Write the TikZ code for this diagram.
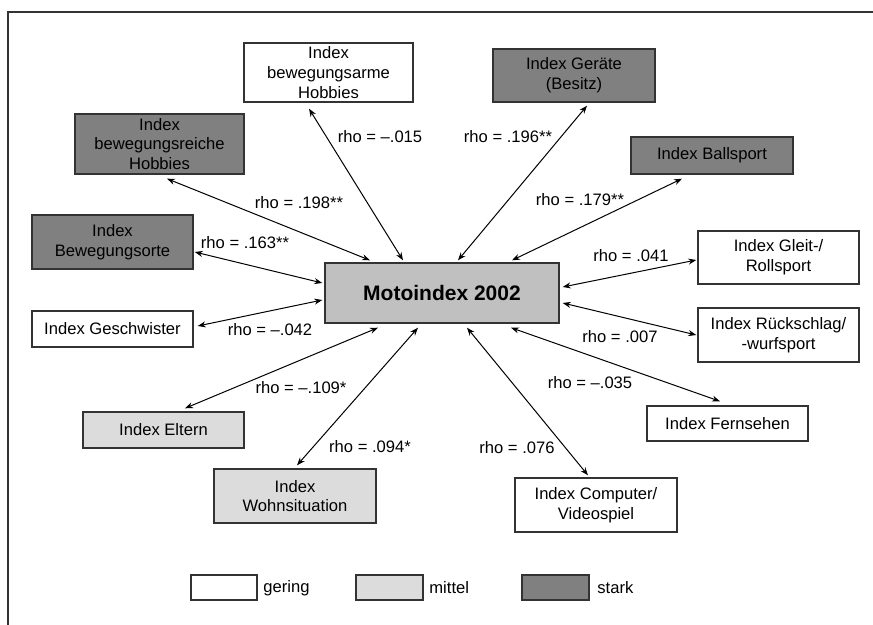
\documentclass[tikz,border=0pt]{standalone}
\usepackage{fontspec}
\setmainfont{Liberation Sans}
\usetikzlibrary{arrows.meta}
\definecolor{StarkClr}{RGB}{128,128,128}
\definecolor{MittelClr}{RGB}{220,220,220}
\definecolor{MotoClr}{RGB}{192,192,192}
\definecolor{FrameClr}{RGB}{51,51,51}

\begin{document}
\begin{tikzpicture}[x=0.5pt,y=-0.5pt,
  box/.style={draw=FrameClr,line width=0.7pt,rectangle,inner sep=0pt,align=center,font=\fontsize{8.3}{9.8}\selectfont},
  gering/.style={box,fill=white},
  mittel/.style={box,fill=MittelClr},
  stark/.style={box,fill=StarkClr},
  rho/.style={inner sep=0pt,font=\fontsize{8.3}{9.8}\selectfont},
  link/.style={line width=0.5pt,{Stealth[length=4pt,width=3pt]}-{Stealth[length=4pt,width=3pt]}}]
\useasboundingbox (0,0) rectangle (873,625);

\draw[FrameClr,line width=1pt] (8,625) -- (8,12) -- (873,12);

\node[box,fill=MotoClr,minimum width=117pt,minimum height=30pt,font=\fontsize{10.5}{12}\selectfont\bfseries] (moto) at (442,293) {Motoindex 2002};

\node[stark,minimum width=84.5pt,minimum height=30pt] (reiche) at (159.5,144) {Index\\bewegungsreiche\\Hobbies};
\node[gering,minimum width=84.5pt,minimum height=29.5pt] (arme) at (328.5,72.5) {Index\\bewegungsarme\\Hobbies};
\node[stark,minimum width=81pt,minimum height=26.5pt] (geraete) at (574,75.5) {Index Geräte\\(Besitz)};
\node[stark,minimum width=81pt,minimum height=18.5pt] (ball) at (712,155.5) {Index Ballsport};
\node[stark,minimum width=80.5pt,minimum height=27pt] (orte) at (112.5,242) {Index\\Bewegungsorte};
\node[gering,minimum width=80.5pt,minimum height=18pt] (geschw) at (112.5,329) {Index Geschwister};
\node[gering,minimum width=80.5pt,minimum height=26.5pt] (gleit) at (778.5,257.5) {Index Gleit-/\\Rollsport};
\node[gering,minimum width=80.5pt,minimum height=27pt] (rueck) at (778.5,335) {Index Rückschlag/\\-wurfsport};
\node[mittel,minimum width=80.5pt,minimum height=18pt] (eltern) at (163.5,430) {Index Eltern};
\node[mittel,minimum width=81pt,minimum height=27pt] (wohn) at (295,496) {Index\\Wohnsituation};
\node[gering,minimum width=80.5pt,minimum height=17.5pt] (fern) at (727.5,423.5) {Index Fernsehen};
\node[gering,minimum width=81pt,minimum height=27pt] (comp) at (596,505) {Index Computer/\\Videospiel};

\draw[link] ([shift={(7.5,4)}]reiche.south) -- ([shift={(-72,-2)}]moto.north);
\draw[link] ([shift={(-19.5,6)}]arme.south) -- ([shift={(-39,-2)}]moto.north);
\draw[link] ([shift={(13,3)}]geraete.south) -- ([shift={(16,-2)}]moto.north);
\draw[link] ([shift={(-30,4)}]ball.south) -- ([shift={(70,-2)}]moto.north);
\draw[link] ([shift={(1,10)}]orte.east) -- ([shift={(-2,-10)}]moto.west);
\draw[link] ([shift={(4,-3)}]geschw.east) -- ([shift={(-2,7)}]moto.west);
\draw[link] ([shift={(-1,2.5)}]gleit.west) -- ([shift={(3,-6)}]moto.east);
\draw[link] ([shift={(-1,0)}]rueck.west) -- ([shift={(3,10)}]moto.east);
\draw[link] ([shift={(21.5,-3)}]eltern.north) -- ([shift={(-64,4)}]moto.south);
\draw[link] ([shift={(2,-3)}]wohn.north) -- ([shift={(-24,4)}]moto.south);
\draw[link] ([shift={(-8,-2)}]comp.north) -- ([shift={(25,4)}]moto.south);
\draw[link] ([shift={(-7.5,-4)}]fern.north) -- ([shift={(69,4)}]moto.south);

\node[rho] (rho-reiche) at (299,203) {rho = .198**};
\node[rho] (rho-arme) at (380,137) {rho = –.015};
\node[rho] (rho-geraete) at (508,137) {rho = .196**};
\node[rho] (rho-ball) at (580,200) {rho = .179**};
\node[rho] (rho-orte) at (245,243) {rho = .163**};
\node[rho] (rho-geschw) at (270,330) {rho = –.042};
\node[rho] (rho-gleit) at (631,256) {rho = .041};
\node[rho] (rho-rueck) at (620,337) {rho = .007};
\node[rho] (rho-fern) at (590,383) {rho = –.035};
\node[rho] (rho-eltern) at (301,388) {rho = –.109*};
\node[rho] (rho-wohn) at (370,447) {rho = .094*};
\node[rho] (rho-comp) at (517,448) {rho = .076};

\node[gering,minimum width=33pt,minimum height=12.5pt] (leg-gering) at (224,587.5) {};
\node[rho,anchor=west] (leg-gering-txt) at (263,588) {gering};
\node[mittel,minimum width=33.5pt,minimum height=12.5pt] (leg-mittel) at (389.5,587.5) {};
\node[rho,anchor=west] (leg-mittel-txt) at (429,588) {mittel};
\node[stark,minimum width=33.5pt,minimum height=12.5pt] (leg-stark) at (555.5,587.5) {};
\node[rho,anchor=west] (leg-stark-txt) at (597,588) {stark};

\end{tikzpicture}
\end{document}
